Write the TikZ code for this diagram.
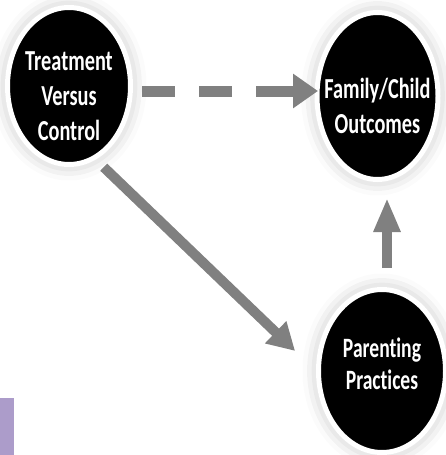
\documentclass[tikz,border=0pt]{standalone}
\usepackage{fontspec}
\newfontfamily\circlefont[FakeStretch=0.7,Ligatures=NoCommon]{Carlito}
\usepackage{color}
\definecolor{myblack}{RGB}{0,0,0}
\definecolor{mygray}{RGB}{128,128,128}
\definecolor{mylavender}{RGB}{172,156,202}
\usetikzlibrary{arrows.meta,shapes.geometric,shadows.blur,calc,positioning}
\tikzstyle{vertex}=[draw=white,line width=5pt,fill=myblack,ellipse,inner sep=0pt,
  blur shadow={shadow xshift=0pt,shadow yshift=0pt,shadow blur radius=16pt,shadow opacity=28}]
\tikzstyle{caption}=[text=white,align=center,inner sep=0pt,
  font=\circlefont\bfseries\fontsize{29}{35}\selectfont]
\tikzstyle{link}=[mygray,line width=10pt]

\begin{document}
\begin{tikzpicture}[x=1pt,y=-1pt]
\useasboundingbox (0,0) rectangle (446,455);
\fill[mylavender] (0,398) rectangle (14,455);
\draw (69,86) node [vertex, minimum width=123pt, minimum height=157pt] (tvc) {};
\draw (377.5,96) node [vertex, minimum width=121pt, minimum height=167pt] (fco) {};
\draw (382,371) node [vertex, minimum width=127pt, minimum height=163pt] (pp) {};
\node [caption] (tvctext) at ([yshift=-10pt]tvc) {Treatment\\Versus\\Control};
\node [caption] (fcotext) at ([yshift=-10pt]fco) {Family/Child\\Outcomes};
\node [caption, font=\circlefont\bfseries\fontsize{28}{32}\selectfont] (pptext) at ([yshift=7pt]pp) {Parenting\\Practices};
\draw[link, line width=11pt, dash pattern=on 33pt off 24pt on 33pt off 24pt on 40pt,
  -{Triangle[length=25pt,width=33pt]}, shorten <=9pt, shorten >=-3.5pt]
  ([yshift=-5pt]tvc.east) -- ([yshift=5pt]fco.west);
\draw[link, -{Triangle[length=27pt,width=29pt]}, shorten <=11pt, shorten >=29pt]
  (tvc.-70.9) -- (pp.180.9);
\draw[link, -{Triangle[length=34pt,width=25pt]}, shorten <=19pt, shorten >=16pt]
  ([xshift=5pt]pp.north) -- ([xshift=5pt]pp.north |- fco.south);
\end{tikzpicture}
\end{document}
